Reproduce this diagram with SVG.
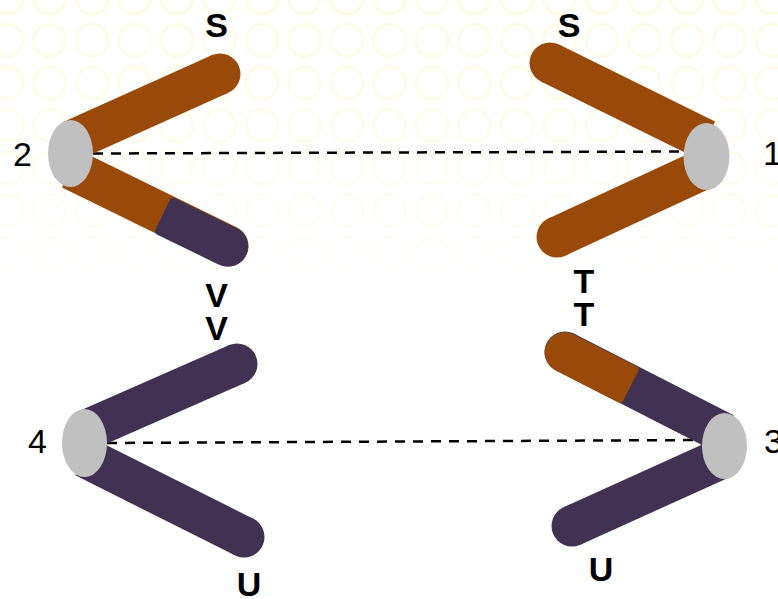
<svg xmlns="http://www.w3.org/2000/svg" width="778" height="599" viewBox="0 0 778 599">
  <defs>
    <style>
      .arm-brown { stroke: #9a4a08; stroke-width: 41; stroke-linecap: butt; fill: none; }
      .arm-purple { stroke: #413152; stroke-width: 41; stroke-linecap: butt; fill: none; }
      .cap-brown { fill: #9a4a08; }
      .cap-purple { fill: #413152; }
      .hub { fill: #c0c0c0; }
      .tip { font-family: "Liberation Sans", Arial, sans-serif; font-size: 34px; font-weight: bold; fill: #000; text-anchor: middle; }
      .num { font-family: "Liberation Sans", Arial, sans-serif; font-size: 34px; fill: #000; }
      .link { stroke: #000; stroke-width: 2.5; stroke-dasharray: 10 8; fill: none; }
    </style>
    <pattern id="rings" patternUnits="userSpaceOnUse" x="-14.25" y="-23.25" width="42.5" height="42.5">
      <circle cx="21.25" cy="21.25" r="16" fill="none" stroke="#fdfbe4" stroke-width="3"/>
    </pattern>
    <linearGradient id="fade" x1="0" y1="0" x2="0" y2="1">
      <stop offset="0" stop-color="#fff" stop-opacity="1"/>
      <stop offset="0.25" stop-color="#fff" stop-opacity="0.7"/>
      <stop offset="0.48" stop-color="#fff" stop-opacity="0"/>
    </linearGradient>
    <mask id="fade-mask" maskUnits="userSpaceOnUse" x="0" y="0" width="778" height="599">
      <rect width="778" height="599" fill="url(#fade)"/>
    </mask>
  </defs>

  <!-- backdrop -->
  <rect width="778" height="599" fill="#fff"/>
  <rect width="778" height="599" fill="url(#rings)" mask="url(#fade-mask)"/>

  <!-- dashed links between the hubs -->
  <g id="connectors">
    <line class="link" x1="93" y1="153.5" x2="684" y2="151.5"/>
    <line class="link" x1="107" y1="443" x2="702" y2="440"/>
  </g>

  <!-- node 2 : brown pair, lower arm tipped purple -->
  <g id="node-2">
    <line class="arm-brown" x1="71" y1="141" x2="220" y2="74"/>
    <circle class="cap-brown" cx="220" cy="74" r="20.5"/>
    <line class="arm-brown" x1="71" y1="169" x2="228" y2="246"/>
    <circle class="cap-brown" cx="228" cy="246" r="20.5"/>
    <g transform="translate(163 214) rotate(26)">
      <rect class="cap-purple" x="0" y="-19.5" width="72.5" height="40.5" rx="4"/>
      <circle class="cap-purple" cx="72.5" cy="0.5" r="20.3"/>
    </g>
    <ellipse class="hub" cx="70.5" cy="153.5" rx="22.5" ry="33.5"/>
    <text class="num" x="22.5" y="166" text-anchor="middle">2</text>
    <text class="tip" x="216.5" y="37">S</text>
    <text class="tip" x="216.5" y="307">V</text>
  </g>

  <!-- node 1 : brown pair -->
  <g id="node-1">
    <line class="arm-brown" x1="706" y1="140" x2="550" y2="63"/>
    <circle class="cap-brown" cx="550" cy="63" r="20.5"/>
    <line class="arm-brown" x1="706" y1="168" x2="557" y2="237"/>
    <circle class="cap-brown" cx="557" cy="237" r="20.5"/>
    <ellipse class="hub" cx="706.5" cy="156.5" rx="23" ry="33.5"/>
    <text class="num" x="763" y="165">1</text>
    <text class="tip" x="569" y="37">S</text>
    <text class="tip" x="584" y="293">T</text>
  </g>

  <!-- node 4 : purple pair -->
  <g id="node-4">
    <line class="arm-purple" x1="84.5" y1="431" x2="237" y2="364"/>
    <circle class="cap-purple" cx="237" cy="364" r="20.5"/>
    <line class="arm-purple" x1="84.5" y1="457" x2="244" y2="537"/>
    <circle class="cap-purple" cx="244" cy="537" r="20.5"/>
    <ellipse class="hub" cx="84.5" cy="443" rx="22.5" ry="34"/>
    <text class="num" x="37.5" y="453" text-anchor="middle">4</text>
    <text class="tip" x="216.5" y="340">V</text>
    <text class="tip" x="249" y="596">U</text>
  </g>

  <!-- node 3 : purple pair, upper arm tipped brown -->
  <g id="node-3">
    <line class="arm-purple" x1="724.5" y1="433.5" x2="565" y2="352"/>
    <circle class="cap-purple" cx="565" cy="352" r="20.5"/>
    <line class="arm-purple" x1="724.5" y1="457" x2="572" y2="526"/>
    <circle class="cap-purple" cx="572" cy="526" r="20.5"/>
    <g transform="translate(565 352) rotate(27)">
      <circle class="cap-brown" cx="0" cy="0.5" r="20.2"/>
      <rect class="cap-brown" x="0" y="-19.7" width="74" height="40.4" rx="4"/>
    </g>
    <ellipse class="hub" cx="724.5" cy="446" rx="22.5" ry="33"/>
    <text class="num" x="764" y="453">3</text>
    <text class="tip" x="584" y="326">T</text>
    <text class="tip" x="601" y="581">U</text>
  </g>
</svg>
